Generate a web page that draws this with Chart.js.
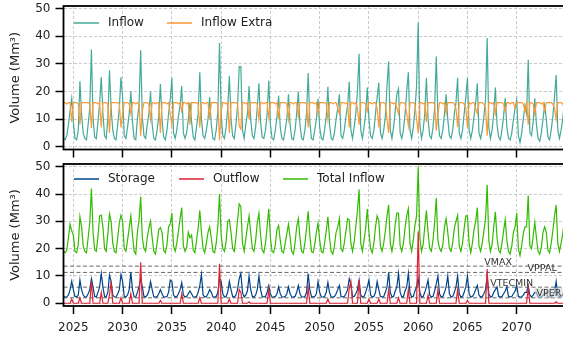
<!DOCTYPE html>
<html><head><meta charset="utf-8">
<script src="https://cdn.jsdelivr.net/npm/chart.js@4.4.0/dist/chart.umd.min.js"></script>
<style>
html,body{margin:0;padding:0;background:#fff;overflow:hidden;width:563px;height:342px;}
#wrap{position:relative;width:563px;height:342px;overflow:hidden;}
canvas{position:absolute;left:0;}
#c1{top:0;}
#c2{top:158px;}
</style></head><body>
<div id="wrap"><canvas id="c1" width="570" height="158"></canvas><canvas id="c2" width="570" height="184"></canvas></div>
<script>
// ---- data: 6 samples per year (Jan, Mar, May, Jul, Sep, Nov), 2024..2074 ----
const startYear = 2024;
const samplesPerYear = 6;
const xTickYears = [2025, 2030, 2035, 2040, 2045, 2050, 2055, 2060, 2065, 2070];
const yTickValues = [0, 10, 20, 30, 40, 50];

const inflow = [
  3,2.5,4,8,13,17.5,   9,3,2.5,6,23.7,12,   5,3,2.5,8,14,35.2,   10,3.5,3,9,16,25.3,  12,4,3,10,27.7,14,
  6,3,2.5,8,14,25.2,   18,4,3,7,12,20,      9,3,2.5,10,15,35,    11,4,3,8,12,20,      8,3,2.5,6,11,22.7,
  10,3.5,2.5,6,12,17,  25,5,3,6,11,15,      22,5,3,5,10,16,      9,3.5,2.5,7,12,27,   10,4,3,6,10,18,
  8,3,2.5,6,13,37.6,   12,4,3,7,14,25.6,    10,4,3,8,15,29,      29,6,3,8,12,22,      10,4,3,7,14,23,
  9,3.5,3,6,12,24,     8,3,2.5,6,11,18.5,   7,3,2.5,6,10,19,     8,3,2.5,6,12,20,     8,3,2.5,6,12,26.7,
  9,3,2.5,6,10,17.4,   7,3,2.5,6,11,21.7,   8,3,2.5,5,10,14,     19,4,3,6,11,15,      23.5,6,3,7,12,20,
  33.7,6,3,7,12,21.5,  10,4,3,6,12,18,      23.2,5,3,6,11,22,    31,6,3,7,13,19,      21,5,3,6,12,20,
  27,6,3,7,13,22,      45,8,3,6,12,25,      10,4,3,7,14,32.7,    11,4,3,6,12,19,      10,4,3,6,12,16,
  25,5,3,6,12,18,      25,6,3,6,11,16,      23,5,3,6,11,17,      39.4,7,3,6,12,21.5,  8,3.5,2.5,6,11,17.6,
  7,3,2.5,5,10,14,     17,4,1.5,5,10,15,    12,31.5,5,4,9,17.6,  8,3,2,5,10,15,       10,3.5,2.5,6,11,18,
  26,6,3,6,10,16
];
const inflowExtra = [
  16,16,15.5,16,16,9,   16,16,16,15.5,8,16,   16,16,16,16,15.5,6.8, 16,16,16,15.5,16,7,  16,16,16,15.5,5,16,
  16,16,16,16,15.5,7,   12,16,16,16,15.5,12,  16,16,15.5,16,15.5,4, 13,16,16,16,15.5,10, 16,16,15.5,16,16,5,
  16,16,16,15.5,16,12,  8,16,16,16,15.5,16,   13,16,16,15.5,16,8,   16,16,16,16,15.5,7,  16,16,15.5,16,16,10,
  16,16,16,16,15.5,2.4, 13,16,16,15.5,16,5,   16,16,16,16,15.5,7.4, 6.4,16,16,15.5,16,10, 16,16,16,16,15.5,10,
  16,16,15.5,16,16,10.6, 16,16,16,15.5,16,10, 16,16,16,16,15.5,10,  16,16,15.5,16,16,11, 16,16,16,16,15.5,7,
  16,16,16,15.5,16,12,  16,16,16,16,15.5,10,  16,16,15.5,16,16,14,  12,16,16,16,15.5,16, 7,16,16,15.5,16,14,
  8,16,16,16,15.5,13,   16,16,15.5,16,16,14,  7,16,16,16,15.5,10,   5,16,16,15.5,16,14,  12,16,16,16,15.5,12,
  7.6,16,16,16,15.5,10, 5,16,16,15.5,16,9,    16,16,16,16,15.5,5.8, 12,16,16,15.5,16,12, 16,16,16,16,15.5,14,
  7.2,16,16,16,15.5,14, 7,16,15.5,16,16,14,   12,16,16,16,15.5,14,  4,16,16,15.5,16,12,  16,16,16,16,15.5,13,
  16,16,15.5,16,16,14,  16,16,16,16,15.5,13,  16,8,16,16,15.5,12,   16,16,16,15.5,16,13, 16,16,16,16,15.5,14,
  10,16,16,16,15.5,14
];
const totalInflow = [
  19,18.5,19.5,24,29,26.5,  25,19,18.5,21.5,31.7,28,  21,19,18.5,24,29.5,42,  26,19.5,19,24.5,32,32.3,  28,20,19,25.5,32.7,30,
  22,19,18.5,24,29.5,32.2,  30,20,19,23,27.5,32,      25,19,18,26,30.5,39,    24,20,19,24,27.5,30,      24,19,18,22,27,27.7,
  26,19.5,18.5,21.5,28,29,  33,21,19,22,26.5,31,      35,21,19,20.5,26,24,    25,19.5,18.5,23,27.5,34,  26,20,18.5,22,26,28,
  24,19,18.5,22,28.5,40,    25,20,19,22.5,30,30.6,    26,20,19,24,30.5,36.4,  35.4,22,19,23.5,28,32,    26,20,19,23,29.5,33,
  25,19.5,18.5,22,28,34.6,  24,19,18.5,21.5,27,28.5,  23,19,18.5,22,25.5,29,  24,19,18,22,28,31,        24,19,18.5,22,27.5,33.7,
  25,19,18.5,21.5,26,29.4,  23,19,18.5,22,26.5,31.7,  24,19,18,21,26,28,      31,20,19,22,26.5,31,      30.5,22,19,22.5,28,34,
  41.7,22,19,23,27.5,34.5,  26,20,18.5,22,28,32,      30.2,21,19,22,26.5,32,  36,22,19,22.5,29,33,      33,21,19,22,27.5,32,
  34.6,22,19,23,28.5,32,    50,24,19,21.5,28,34,      26,20,19,23,29.5,38.5,  23,20,19,21.5,28,31,      26,20,19,22,27.5,30,
  32.2,21,19,22,27.5,32,    32,22,18.5,22,27,30,      35,21,19,22,26.5,31,    43.4,23,19,21.5,28,33.5,  24,19.5,18.5,22,26.5,30.6,
  23,19,18,21,26,28,        33,20,17.5,21,25.5,28,    28,39.5,21,20,24.5,29.6, 24,19,18,20.5,26,28,     26,19.5,18.5,22,26.5,32,
  36,22,19,22,25.5,30
];
const storage = [
  2.5,2.3,2.3,3,5,8,     5,2.5,2.3,3,8.5,5,     3,2.3,2.3,3.5,5,9,     6,2.5,2.3,4,6,10.9,    6,2.5,2.3,4,10.3,8,
  3,2.3,2.3,3.5,5,10.6,  8,2.5,2.3,3,5,11.3,    5,2.3,2.3,4,6,9,       6,2.5,2.3,3,4.5,8,     5,2.3,2.3,2.5,3.5,5,
  3.5,2.3,2.3,2.5,4,8.5, 8,3,2.3,2.5,3.5,5,     7.6,3,2.3,2.5,3.5,4.5, 3.5,2.3,2.3,2.5,4,6.5, 10.6,3,2.3,2.5,3.5,5,
  4,2.3,2.3,2.5,4,9,     8,3.5,2.3,2.5,4,8,     5,2.5,2.3,3,5,9,       10.9,4,2.3,3,4.5,10,   5,2.5,2.3,3,5,10,
  5,2.5,2.3,2.5,4,6.5,   3.5,2.3,2.3,2.5,3.5,6, 3.5,2.3,2.3,2.5,3.5,6, 3.5,2.3,2.3,2.5,4,6.5, 3.5,2.3,2.3,2.5,4,10.9,
  5,2.5,2.3,2.5,3.5,8,   4,2.3,2.3,2.5,4,7.6,   4,2.3,2.3,2.5,3.5,5,   6.5,2.5,2.3,2.5,3.5,5, 9,7,2.5,2.5,3.5,5,
  8.5,3,2.3,2.5,4,6,     8.5,3,2.3,2.5,4,8,     5,2.5,2.3,2.5,4,6,     11.3,4,2.3,2.5,4.5,6,  11,4,2.3,2.5,4.5,6,
  11,4,2.3,2.5,4.5,6,    9,4,2.3,2.5,4,6,       8.5,3,2.3,2.5,4.5,7,   10,3.5,2.3,2.5,4,6,    10,3.5,2.3,2.5,4,6,
  10,3.5,2.3,2.5,4,6,    10,3.5,2.3,2.5,3.5,5,  6.5,3,2.3,2.5,3.5,5,   10,3.5,2.3,2.5,4,5,    6,2.5,2.3,2.5,3.5,4.5,
  6,2.5,2.3,2.5,3.5,4.5, 6.5,2.5,2.3,2.3,3,4,   4,6.5,3,2.3,3,4,       4,2.3,2.3,2.3,3,3.5,   4,2.3,2.3,2.3,3,4,
  8,3,2.3,2.5,3,5
];
const outflow = [
  0,0,0,0,0,1.5,  0,0,0,0,2,0,    0,0,0,0,0,8,    0,0,0,0,0,4,    0,0,0,0,3,8,
  0,0,0,0,0,2,    0,0,0,0,0,3.5,  0,0,0,0,0,15,   0,0,0,0,0,0,    0,0,0,0,0,1,
  0,0,0,0,0,0,    0,0,0,0,0,0,    3.5,0,0,0,0,0,  0,0,0,0,0,2,    0,0,0,0,0,0,
  0,0,0,0,0,14.5, 0,0,0,0,0,1.5,  0,0,0,0,0,5,    4,0,0,0,0,0.5,  0,0,0,0,0,0,
  0,0,0,0,0,5,    0,0,0,0,0,0,    0,0,0,0,0,0,    0,0,0,0,0,0,    0,0,0,0,0,5.7,
  0,0,0,0,0,0,    0,0,0,0,0,1.5,  0,0,0,0,0,0,    0,0,0,0,0,0,    5.5,8,0,0,0,0,
  8.5,0,0,0,0,0,  1.5,0,0,0,0,0,  1.5,0,0,0,0,0,  5,0,0,0,0,0,    2,0,0,0,0,0,
  5,0,0,0,0,0,    26.3,0,0,0,0,0, 3,0,0,0,0,0,    5,0,0,0,0,0,    0,0,0,0,0,0,
  5,0,0,0,0,0,    1,0,0,0,0,0,    0,0,0,0,0,0,    12.5,0,0,0,0,0, 0,0,0,0,0,0,
  0,0,0,0,0,0,    0,0,0,0,0,0,    0,5.5,0,0,0,0,  0,0,0,0,0,0,    0,0,0,0,0,0,
  0.5,0,0,0,0,0
];
// reservoir reference levels (Mm³)
const refNames = ['VMAX', 'VPPAL', 'VTECMIN', 'VPER'];
const refLevels = [13.6, 11.3, 5.9, 2.0];
const refLabelYears = [2066.7, 2071.1, 2067.3, 2072.0];

// ---- building ----
const times = inflow.map((_, i) => startYear + i / samplesPerYear);
const pts = arr => arr.map((v, i) => ({x: times[i], y: v}));

Chart.defaults.font.family = '"DejaVu Sans", sans-serif';
Chart.defaults.color = '#222';

const gridColor = 'rgba(170,170,170,0.75)';
const boxPlugin = {
  id: 'box',
  afterDraw(chart) {
    const {ctx, chartArea: a} = chart;
    ctx.save();
    ctx.strokeStyle = '#000';
    ctx.lineWidth = 1.8;
    ctx.strokeRect(a.left, a.top, a.right - a.left, a.bottom - a.top);
    ctx.restore();
  }
};
function legendPlugin(xs, y) {
  return {
    id: 'customLegend',
    afterDraw(chart) {
      const ctx = chart.ctx;
      ctx.save();
      ctx.font = '12px "DejaVu Sans"';
      ctx.textBaseline = 'middle';
      chart.data.datasets.forEach((ds, i) => {
        ctx.strokeStyle = ds.borderColor;
        ctx.lineWidth = 1.5;
        ctx.beginPath();
        ctx.moveTo(xs[i], y);
        ctx.lineTo(xs[i] + 25, y);
        ctx.stroke();
        ctx.fillStyle = '#222';
        ctx.fillText(ds.label, xs[i] + 34, y);
      });
      ctx.restore();
    }
  };
}
const refPlugin = {
  id: 'refs',
  beforeDatasetsDraw(chart) {
    const {ctx, chartArea: a, scales} = chart;
    ctx.save();
    ctx.strokeStyle = '#666';
    ctx.lineWidth = 1;
    ctx.setLineDash([4, 2.5]);
    refLevels.forEach(v => {
      const y = scales.y.getPixelForValue(v);
      ctx.beginPath();
      ctx.moveTo(a.left, y);
      ctx.lineTo(a.right, y);
      ctx.stroke();
    });
    ctx.restore();
  },
  afterDatasetsDraw(chart) {
    const {ctx, scales} = chart;
    ctx.save();
    ctx.font = '9.5px "DejaVu Sans"';
    ctx.textBaseline = 'alphabetic';
    refNames.forEach((n, i) => {
      const x = scales.x.getPixelForValue(refLabelYears[i]);
      const y = scales.y.getPixelForValue(refLevels[i]) - 1.5;
      if (n === 'VPER') {
        const w = ctx.measureText(n).width;
        ctx.fillStyle = 'rgba(215,215,215,0.6)';
        ctx.fillRect(x - 1.5, y - 8.5, w + 3, 10);
      }
      ctx.fillStyle = '#333';
      ctx.fillText(n, x, y);
    });
    ctx.restore();
  }
};

function noPad(s) { s.paddingTop = 0; s.paddingBottom = 0; s.paddingLeft = 0; s.paddingRight = 0; }

function makeChart(id, datasets, xHeight, showX, legendXs, legendY, extraPlugins) {
  return new Chart(document.getElementById(id), {
    type: 'line',
    data: {datasets},
    options: {
      responsive: false, animation: false, devicePixelRatio: 1,
      layout: {padding: {top: 6, right: 4, left: 0, bottom: 0}},
      plugins: {legend: {display: false}, tooltip: {enabled: false}},
      elements: {point: {radius: 0}, line: {borderWidth: 1.2, tension: 0}},
      scales: {
        x: {
          type: 'linear', min: 2024, max: 2075,
          afterBuildTicks: s => { s.ticks = xTickYears.map(v => ({value: v})); },
          afterFit: s => { s.height = xHeight; noPad(s); },
          grid: {color: gridColor, lineWidth: 0.8, borderDash: [3, 2], tickLength: 8, tickColor: '#000', tickWidth: 1.5},
          border: {display: false, dash: [3, 2]},
          ticks: {display: showX, padding: 7, font: {size: 12}, color: '#222', autoSkip: false, maxRotation: 0, callback: v => String(v)}
        },
        y: {
          min: -1, max: 51,
          afterBuildTicks: s => { s.ticks = yTickValues.map(v => ({value: v})); },
          afterFit: s => { s.width = 63.5; noPad(s); },
          grid: {color: gridColor, lineWidth: 0.8, borderDash: [3, 2], tickLength: 8, tickColor: '#000', tickWidth: 1.5},
          border: {display: false, dash: [3, 2]},
          ticks: {padding: 5, font: {size: 12}, color: '#222', callback: v => String(v)},
          title: {display: true, text: 'Volume (Mm³)', font: {size: 13}, color: '#222', padding: {top: 8, bottom: 0}}
        }
      }
    },
    plugins: [boxPlugin, legendPlugin(legendXs, legendY)].concat(extraPlugins)
  });
}

makeChart('c1', [
  {label: 'Inflow', data: pts(inflow), borderColor: '#44AA99', order: 1},
  {label: 'Inflow Extra', data: pts(inflowExtra), borderColor: '#FF9933', order: 0}
], 8.5, false, [74, 167], 23, []);

makeChart('c2', [
  {label: 'Storage', data: pts(storage), borderColor: '#004488', order: 2},
  {label: 'Outflow', data: pts(outflow), borderColor: '#DD2233', order: 1},
  {label: 'Total Inflow', data: pts(totalInflow), borderColor: '#33BB00', order: 0}
], 36, true, [74, 179, 283], 21, [refPlugin]);
</script>
</body></html>
